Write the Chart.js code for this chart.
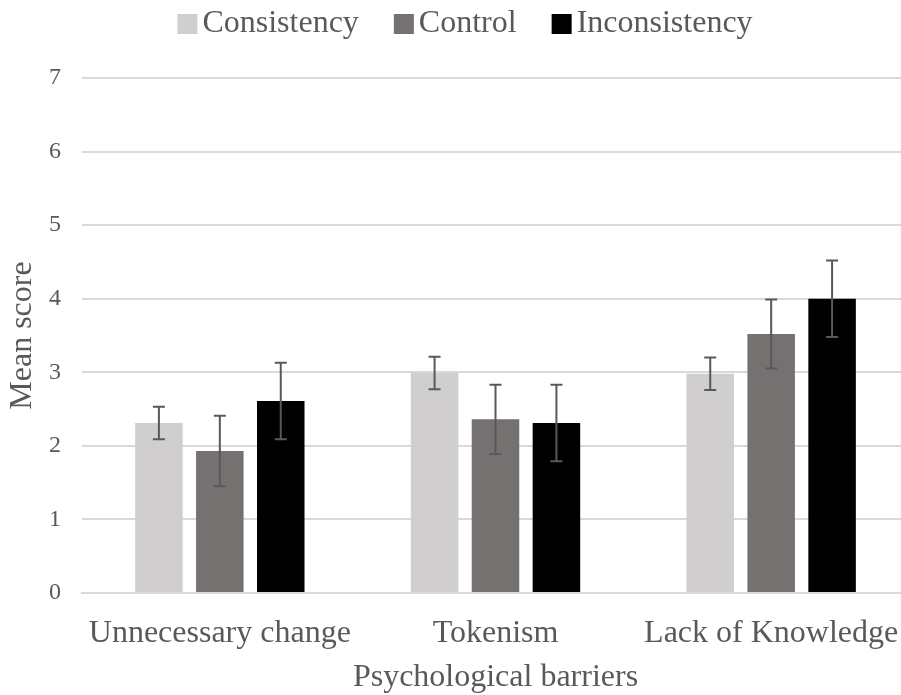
<!DOCTYPE html>
<html>
<head>
<meta charset="utf-8">
<script src="https://cdn.jsdelivr.net/npm/chart.js@4/dist/chart.umd.min.js"></script>
<style>
  html, body { margin: 0; padding: 0; background: #ffffff; overflow: hidden; }
  #wrap { position: absolute; left: 0; top: 0; width: 930px; height: 695px; }
</style>
</head>
<body>
<div id="wrap"><canvas id="chart" width="930" height="695"></canvas></div>
<script>
// Psychological barriers by condition: mean scores with error margins
const categories = ['Unnecessary change', 'Tokenism', 'Lack of Knowledge'];
const seriesNames = ['Consistency', 'Control', 'Inconsistency'];
const consistencyMeans = [2.31, 2.99, 2.98];
const controlMeans = [1.93, 2.36, 3.52];
const inconsistencyMeans = [2.61, 2.31, 4.00];
const consistencyErr = [0.22, 0.22, 0.22];
const controlErr = [0.48, 0.47, 0.47];
const inconsistencyErr = [0.52, 0.52, 0.52];
const yTicks = [0, 1, 2, 3, 4, 5, 6, 7];

const colors = ['#d0cece', '#767171', '#000000'];
const textColor = '#595959';
const fontFamily = '"Liberation Serif", "Times New Roman", serif';

// Whiskers: vertical line from mean-err to mean+err with short caps
const errorBars = {
  id: 'errorBars',
  afterDatasetsDraw(chart) {
    const ctx = chart.ctx;
    const y = chart.scales.y;
    ctx.save();
    ctx.strokeStyle = '#595959';
    ctx.lineWidth = 2;
    chart.data.datasets.forEach((ds, di) => {
      const meta = chart.getDatasetMeta(di);
      meta.data.forEach((bar, i) => {
        const v = ds.data[i];
        const e = ds.errors[i];
        const yTop = y.getPixelForValue(v + e);
        const yBot = y.getPixelForValue(v - e);
        const x = bar.x;
        ctx.beginPath();
        ctx.moveTo(x, yTop); ctx.lineTo(x, yBot);
        ctx.moveTo(x - 6, yTop); ctx.lineTo(x + 6, yTop);
        ctx.moveTo(x - 6, yBot); ctx.lineTo(x + 6, yBot);
        ctx.stroke();
      });
    });
    ctx.restore();
  }
};

// Compact legend: square swatch tight against its label, centred on the canvas
const compactLegend = {
  id: 'compactLegend',
  afterDraw(chart) {
    const ctx = chart.ctx;
    const box = 20, gap = 5, itemGap = 35, cy = 24;
    ctx.save();
    ctx.font = '32px ' + fontFamily;
    ctx.textBaseline = 'middle';
    const items = chart.data.datasets.map(ds => ({
      label: ds.label, color: ds.backgroundColor, w: ctx.measureText(ds.label).width
    }));
    const total = items.reduce((s, it) => s + box + gap + it.w, 0) + itemGap * (items.length - 1);
    let x = chart.width / 2 - total / 2;
    items.forEach(it => {
      ctx.fillStyle = it.color;
      ctx.fillRect(x, cy - box / 2, box, box);
      ctx.fillStyle = textColor;
      ctx.fillText(it.label, x + box + gap, cy);
      x += box + gap + it.w + itemGap;
    });
    ctx.restore();
  }
};

const makeSet = (label, data, errors, color) => ({
  label, data, errors,
  backgroundColor: color,
  borderColor: color,
  borderWidth: 0,
  barPercentage: 0.78,
  categoryPercentage: 0.663
});

new Chart(document.getElementById('chart'), {
  type: 'bar',
  data: {
    labels: categories,
    datasets: [
      makeSet(seriesNames[0], consistencyMeans, consistencyErr, colors[0]),
      makeSet(seriesNames[1], controlMeans, controlErr, colors[1]),
      makeSet(seriesNames[2], inconsistencyMeans, inconsistencyErr, colors[2])
    ]
  },
  options: {
    responsive: false,
    animation: false,
    layout: { padding: { top: 78, right: 21, bottom: 0, left: 0 } },
    plugins: {
      legend: { display: false },
      tooltip: { enabled: false }
    },
    scales: {
      x: {
        grid: { display: false, drawTicks: false },
        border: { color: '#d9d9d9', width: 2 },
        ticks: { color: textColor, font: { family: fontFamily, size: 32 }, padding: 21 },
        afterFit(scale) { scale.height = 102; },
        title: {
          display: true, text: 'Psychological barriers', color: textColor,
          font: { family: fontFamily, size: 32 }, padding: { top: 0, bottom: -2 }
        }
      },
      y: {
        min: 0, max: 7,
        afterBuildTicks(scale) { scale.ticks = yTicks.map(v => ({ value: v })); },
        afterFit(scale) { scale.width = 82; },
        grid: { color: '#d9d9d9', lineWidth: 2, drawTicks: false },
        border: { display: false },
        ticks: { color: textColor, font: { family: fontFamily, size: 24 }, padding: 21 },
        title: {
          display: true, text: 'Mean score', color: textColor,
          font: { family: fontFamily, size: 32 }, padding: { top: 3, bottom: 0 }
        }
      }
    }
  },
  plugins: [errorBars, compactLegend]
});
</script>
</body>
</html>
